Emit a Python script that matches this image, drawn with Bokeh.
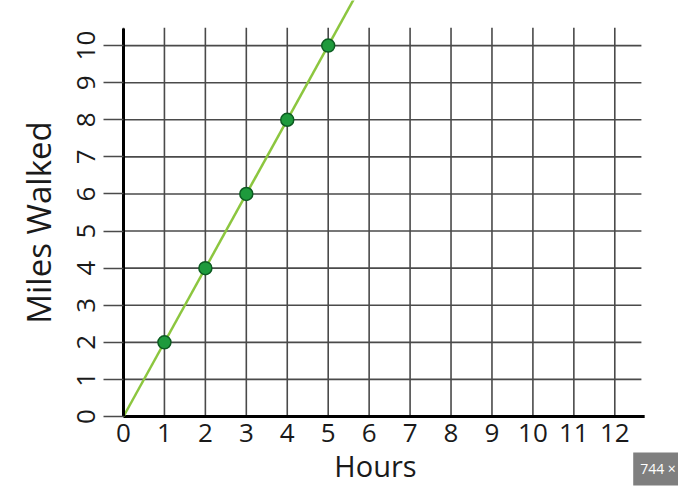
from bokeh.plotting import figure
from bokeh.models import FixedTicker, Range1d, Label
from bokeh.embed import file_html
from bokeh.resources import INLINE

# ---- data ----
hours = [1, 2, 3, 4, 5]
miles = [2, 4, 6, 8, 10]
x_ticks = list(range(0, 13))
y_ticks = list(range(0, 11))
x_title = "Hours"
y_title = "Miles Walked"
badge_text = "744 ×"

rate = miles[-1] / hours[-1]
line_x = [0, 6.0]
line_y = [rate * v for v in line_x]

FONT = "Open Sans"
GRID = "#4a4a4a"

p = figure(frame_width=678, frame_height=487,
           x_range=Range1d(-3.004, 13.556), y_range=Range1d(-1.914, 11.216),
           output_backend="svg", toolbar_location=None,
           min_border_left=0, min_border_right=0,
           min_border_top=0, min_border_bottom=0,
           background_fill_color="white", border_fill_color="white")
p.outline_line_color = None
p.grid.visible = False

# grid lines
grid_top = 10.48
grid_right = 12.65
p.segment(x0=x_ticks, y0=[0] * len(x_ticks), x1=x_ticks, y1=[grid_top] * len(x_ticks),
          line_color=GRID, line_width=1.6, level="underlay")
p.segment(x0=[0] * len(y_ticks), y0=y_ticks, x1=[grid_right] * len(y_ticks), y1=y_ticks,
          line_color=GRID, line_width=1.6, level="underlay")
# x axis rule (drawn as a segment so the title can be centred like the reference)
p.segment(x0=[0], y0=[0], x1=[12.73], y1=[0], line_color="black", line_width=3)

# axes (pinned at the origin)
p.xaxis.ticker = FixedTicker(ticks=x_ticks)
p.yaxis.ticker = FixedTicker(ticks=y_ticks)
p.xaxis.fixed_location = 0
p.yaxis.fixed_location = 0
p.xaxis.bounds = (0, 12.3)
p.yaxis.bounds = (0, 10.45)
for ax in (p.xaxis, p.yaxis):
    ax.axis_line_color = "black"
    ax.axis_line_width = 3
    ax.minor_tick_line_color = None
    ax.major_label_text_font = FONT
    ax.major_label_text_font_size = "26px"
    ax.major_label_text_color = "#1a1a1a"
    ax.axis_label_text_font = FONT
    ax.axis_label_text_font_style = "normal"
    ax.axis_label_text_color = "#1a1a1a"
p.xaxis.axis_line_color = None
p.xaxis.major_tick_line_color = None
p.xaxis.major_tick_out = 0
p.xaxis.major_tick_in = 0
p.xaxis.major_label_standoff = 7
p.xaxis.axis_label = x_title
p.xaxis.axis_label_text_font_size = "29px"
p.xaxis.axis_label_standoff = 1

p.yaxis.major_tick_line_color = GRID
p.yaxis.major_tick_line_width = 1.6
p.yaxis.major_tick_out = 20
p.yaxis.major_tick_in = 0
p.yaxis.major_label_orientation = "vertical"
p.yaxis.major_label_standoff = 8
p.yaxis.axis_label = y_title
p.yaxis.axis_label_text_font_size = "33px"
p.yaxis.axis_label_standoff = 14

# data line and points
p.line(line_x, line_y, line_color="#8cc63f", line_width=2.5)
p.scatter(hours, miles, size=13, fill_color="#1e9a3c", line_color="#0d5c22", line_width=1.5)

# screenshot badge
p.add_layout(Label(x=12.45, y=-1.415, text=badge_text, text_color="white",
                   text_align="left", text_baseline="middle",
                   text_font=FONT, text_font_size="14px",
                   background_fill_color="#7f7f7f", background_fill_alpha=1.0,
                   padding=7, border_line_color=None))

open("out.html", "w").write(file_html(p, INLINE))
